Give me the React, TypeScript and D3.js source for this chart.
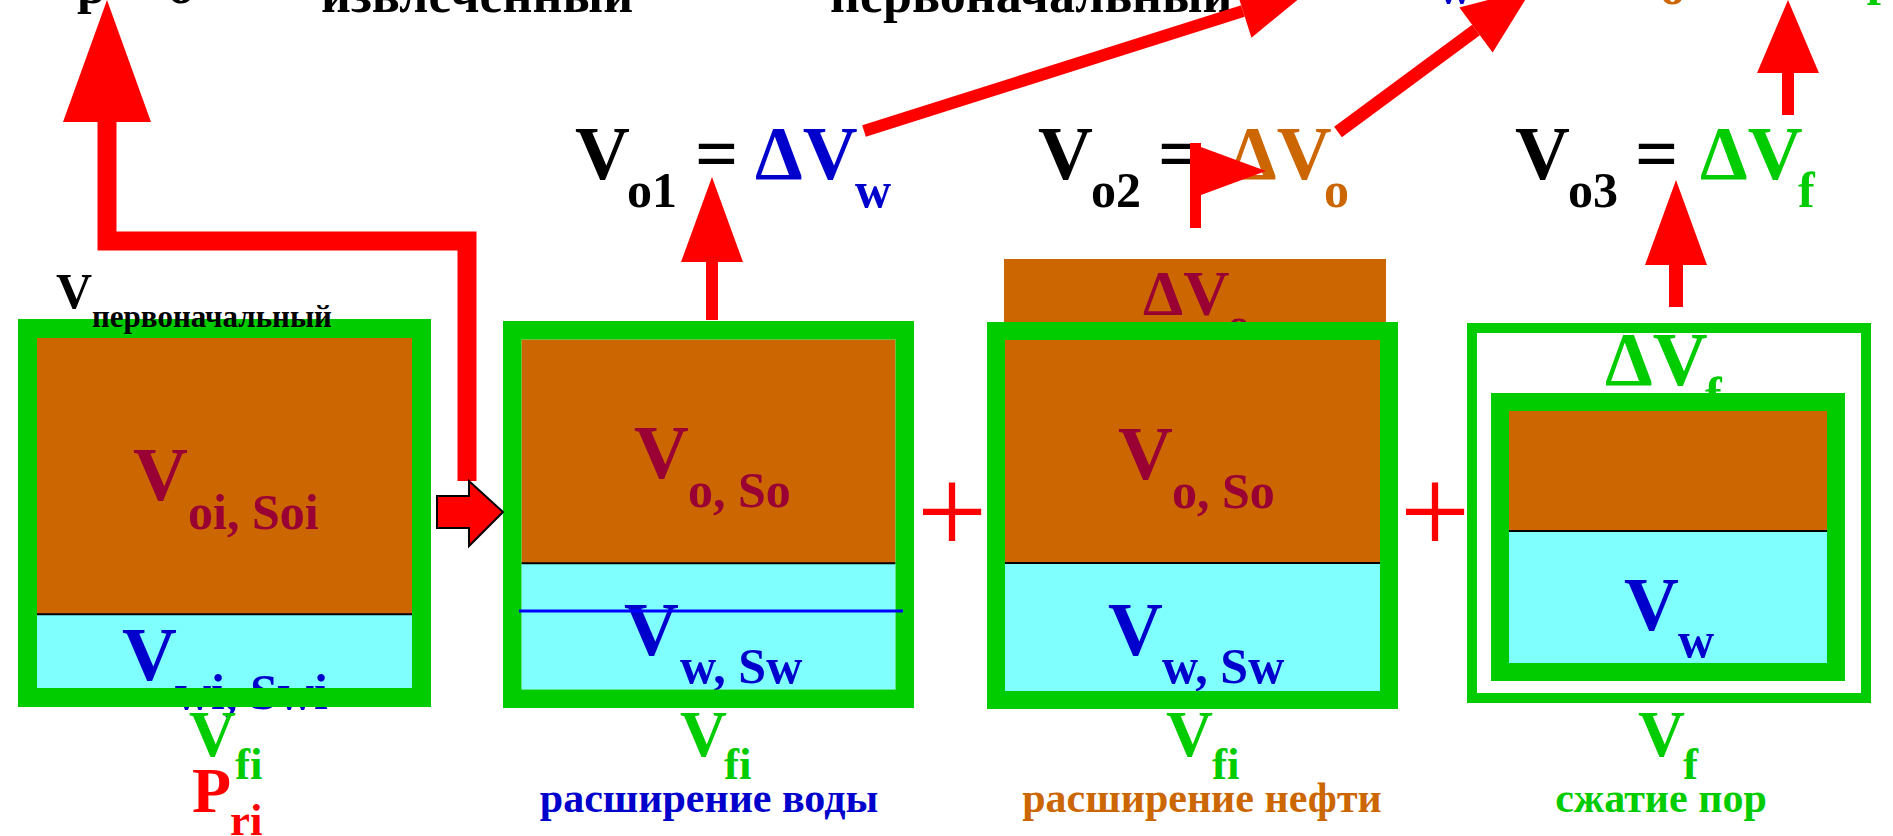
import React, { useEffect } from "react";
import * as d3 from "d3";

// ---------- data ----------
const stages = ["первоначальный", "расширение воды", "расширение нефти", "сжатие пор"];
const oilShare = [0.789, 0.639, 0.635, 0.476]; // oil part of each pore volume (fraction of height)
const initialWaterLevel = 0.776; // blue line in stage 2 (former oil/water contact)
const oilLabels = ["oi, Soi", "o, So", "o, So"];
const waterLabels = ["wi, Swi", "w, Sw", "w, Sw", "w"];
const poreSubs = ["fi", "fi", "fi", "f"];
const formulaSubs = ["o1", "o2", "o3"];
const deltaSubs = ["w", "o", "f"];
const topWords = ["р", "о", "извлеченный", "первоначальный", "w", "o", "f"];

// ---------- styles ----------
const FONT = "'Liberation Serif', 'Times New Roman', serif";
const GREEN = "#00CC00";
const ORANGE = "#CC6600";
const WATER = "#80FFFF";
const CRIMSON = "#990033";
const BLUE = "#0000CC";
const RED = "#FF0000";

type VesselProps = {
  x0: number; y0: number; x1: number; y1: number; b: number; share: number;
  children?: React.ReactNode; extra?: (y: d3.ScaleLinear<number, number>, ix0: number, ix1: number) => React.ReactNode;
};

function Vessel({ x0, y0, x1, y1, b, share, children, extra }: VesselProps) {
  const ix0 = x0 + b, ix1 = x1 - b, iy0 = y0 + b, iy1 = y1 - b;
  const y = d3.scaleLinear().domain([0, 1]).range([iy0, iy1]);
  const split = y(share);
  return (
    <g>
      <rect x={ix0} y={iy0} width={ix1 - ix0} height={split - iy0} fill={ORANGE} />
      <rect x={ix0} y={split} width={ix1 - ix0} height={iy1 - split} fill={WATER} />
      <line x1={ix0} x2={ix1} y1={split} y2={split} stroke="#000" strokeWidth={2} />
      {children}
      <rect x={x0 + b / 2} y={y0 + b / 2} width={x1 - x0 - b} height={y1 - y0 - b}
        fill="none" stroke={GREEN} strokeWidth={b} />
      {extra ? extra(y, ix0, ix1) : null}
    </g>
  );
}

function T({ x, y, s, c = "#000", children, w = "bold", anchor = "start" }: any) {
  return (
    <text x={x} y={y} fontSize={s} fill={c} fontWeight={w} textAnchor={anchor} fontFamily={FONT}>
      {children}
    </text>
  );
}

function arrowHead(base: [number, number], dir: [number, number], len: number, half: number) {
  const n = Math.hypot(dir[0], dir[1]);
  const u = [dir[0] / n, dir[1] / n];
  const p = [-u[1], u[0]];
  const tip = [base[0] + u[0] * len, base[1] + u[1] * len];
  const a = [base[0] + p[0] * half, base[1] + p[1] * half];
  const c = [base[0] - p[0] * half, base[1] - p[1] * half];
  return `M${a[0]},${a[1]}L${tip[0]},${tip[1]}L${c[0]},${c[1]}Z`;
}

export default function App() {
  useEffect(() => {
    document.body.style.margin = "0";
  }, []);

  const line = d3.line();

  // diagonal arrows
  const diagA = { from: [864, 131] as [number, number], base: [1243, 11] as [number, number] };
  const diagB = { from: [1338, 132] as [number, number], base: [1476, 30] as [number, number] };

  return (
    <svg width={1893} height={836} style={{ position: "fixed", left: 0, top: 0, background: "#fff" }}>
      <rect x={0} y={0} width={1893} height={836} fill="#fff" />

      {/* ---- top cut-off line ---- */}
      <T x={77} y={3} s={52}>{topWords[0]}</T>
      <T x={168} y={3} s={52}>{topWords[1]}</T>
      <T x={321} y={12} s={52}>{topWords[2]}</T>
      <T x={830} y={12} s={52}>{topWords[3]}</T>
      <T x={1437} y={3} s={50} c={BLUE}>{topWords[4]}</T>
      <T x={1660} y={4} s={50} c={ORANGE}>{topWords[5]}</T>
      <T x={1866} y={5} s={50} c={GREEN}>{topWords[6]}</T>

      {/* ---- stage 1 ---- */}
      <Vessel x0={18} y0={319} x1={431} y1={707} b={19} share={oilShare[0]}>
        <T x={133} y={500} s={76} c={CRIMSON}>V</T>
        <T x={188} y={529} s={50} c={CRIMSON}>{oilLabels[0]}</T>
        <T x={122} y={680} s={76} c={BLUE}>V</T>
        <T x={175} y={709} s={50} c={BLUE}>{waterLabels[0]}</T>
      </Vessel>
      <T x={56} y={308} s={50}>V</T>
      <T x={92} y={327} s={31}>{stages[0]}</T>

      {/* ---- stage 2 ---- */}
      <Vessel x0={503} y0={321} x1={914} y1={708} b={18.5} share={oilShare[1]}
        extra={(y) => (
          <line x1={519} x2={903} y1={y(initialWaterLevel)} y2={y(initialWaterLevel)} stroke="#0000FF" strokeWidth={3} />
        )}>
        <T x={634} y={478} s={76} c={CRIMSON}>V</T>
        <T x={688} y={507} s={50} c={CRIMSON}>{oilLabels[1]}</T>
        <T x={624} y={655} s={76} c={BLUE}>V</T>
        <T x={680} y={683} s={50} c={BLUE}>{waterLabels[1]}</T>
      </Vessel>

      {/* ---- stage 3 ---- */}
      <rect x={1004} y={259} width={382} height={70} fill={ORANGE} />
      <T x={1143} y={315} s={64} c={CRIMSON}>ΔV</T>
      <T x={1228} y={338} s={43} c={CRIMSON}>o</T>
      <Vessel x0={987} y0={322} x1={1398} y1={709} b={18} share={oilShare[2]}>
        <T x={1118} y={479} s={76} c={CRIMSON}>V</T>
        <T x={1172} y={508} s={50} c={CRIMSON}>{oilLabels[2]}</T>
        <T x={1108} y={655} s={76} c={BLUE}>V</T>
        <T x={1162} y={683} s={50} c={BLUE}>{waterLabels[2]}</T>
      </Vessel>

      {/* ---- stage 4 ---- */}
      <rect x={1472} y={328} width={394} height={370} fill="none" stroke={GREEN} strokeWidth={10} />
      <T x={1605} y={385} s={76} c={GREEN}>ΔV</T>
      <T x={1705} y={412} s={50} c={GREEN}>{deltaSubs[2]}</T>
      <Vessel x0={1491} y0={393} x1={1845} y1={681} b={18} share={oilShare[3]}>
        <T x={1624} y={630} s={76} c={BLUE}>V</T>
        <T x={1678} y={657} s={50} c={BLUE}>{waterLabels[3]}</T>
      </Vessel>

      {/* ---- plus signs ---- */}
      <T x={952} y={553} s={125} c={RED} w="normal" anchor="middle">+</T>
      <T x={1435} y={553} s={125} c={RED} w="normal" anchor="middle">+</T>

      {/* ---- formulas ---- */}
      <T x={575} y={179} s={76}>V</T>
      <T x={627} y={207} s={50}>{formulaSubs[0]}</T>
      <T x={695} y={179} s={76}>=</T>
      <T x={755} y={179} s={76} c={BLUE}>ΔV</T>
      <T x={855} y={207} s={50} c={BLUE}>{deltaSubs[0]}</T>

      <T x={1038} y={179} s={76}>V</T>
      <T x={1091} y={207} s={50}>{formulaSubs[1]}</T>
      <T x={1158} y={179} s={76}>=</T>
      <T x={1229} y={179} s={76} c={ORANGE}>ΔV</T>
      <T x={1324} y={207} s={50} c={ORANGE}>{deltaSubs[1]}</T>

      <T x={1515} y={179} s={76}>V</T>
      <T x={1568} y={207} s={50}>{formulaSubs[2]}</T>
      <T x={1635} y={179} s={76}>=</T>
      <T x={1700} y={179} s={76} c={GREEN}>ΔV</T>
      <T x={1798} y={207} s={50} c={GREEN}>{deltaSubs[2]}</T>

      {/* ---- red arrows ---- */}
      <path d={line([[107, 122], [107, 241], [467, 241], [467, 481]]) || ""} fill="none" stroke={RED}
        strokeWidth={19} strokeLinejoin="miter" />
      <path d="M63,122L107,0L151,122Z" fill={RED} />
      <path d="M437,496L469,496L469,481L503,512L469,546L469,528L437,528Z" fill={RED} stroke="#000" strokeWidth={2} />

      <rect x={706} y={261} width={12} height={59} fill={RED} />
      <path d="M681,262L712,177L743,262Z" fill={RED} />

      <rect x={1190} y={143} width={11} height={85} fill={RED} />
      <path d="M1190,143L1266,171L1201,195Z" fill={RED} />

      <path d={line([diagA.from, diagA.base]) || ""} stroke={RED} strokeWidth={12} />
      <path d={arrowHead(diagA.base, [diagA.base[0] - diagA.from[0], diagA.base[1] - diagA.from[1]], 70, 28)} fill={RED} />
      <path d={line([diagB.from, diagB.base]) || ""} stroke={RED} strokeWidth={13} />
      <path d={arrowHead(diagB.base, [diagB.base[0] - diagB.from[0], diagB.base[1] - diagB.from[1]], 70, 28)} fill={RED} />

      <rect x={1782} y={72} width={12} height={43} fill={RED} />
      <path d="M1757,73L1788,0L1819,73Z" fill={RED} />
      <rect x={1669} y={264} width={14} height={43} fill={RED} />
      <path d="M1645,265L1676,180L1707,265Z" fill={RED} />

      {/* ---- bottom labels ---- */}
      <T x={189} y={756} s={65} c={GREEN}>V</T>
      <T x={235} y={779} s={45} c={GREEN}>{poreSubs[0]}</T>
      <T x={192} y={812} s={64} c={RED}>P</T>
      <T x={230} y={835} s={45} c={RED}>ri</T>

      <T x={680} y={756} s={65} c={GREEN}>V</T>
      <T x={724} y={779} s={45} c={GREEN}>{poreSubs[1]}</T>
      <T x={709} y={812} s={42} c={BLUE} anchor="middle">{stages[1]}</T>

      <T x={1166} y={756} s={65} c={GREEN}>V</T>
      <T x={1212} y={779} s={45} c={GREEN}>{poreSubs[2]}</T>
      <T x={1202} y={812} s={42} c={ORANGE} anchor="middle">{stages[2]}</T>

      <T x={1638} y={756} s={65} c={GREEN}>V</T>
      <T x={1683} y={779} s={45} c={GREEN}>{poreSubs[3]}</T>
      <T x={1661} y={812} s={42} c={GREEN} anchor="middle">{stages[3]}</T>
    </svg>
  );
}
